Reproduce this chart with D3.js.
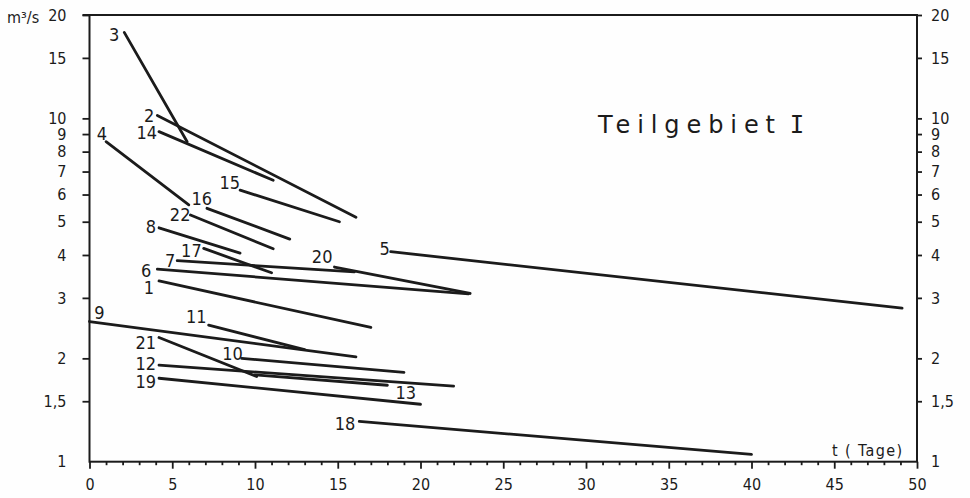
<!DOCTYPE html>
<html><head><meta charset="utf-8">
<script src="https://cdn.jsdelivr.net/npm/d3@7"></script>
<style>
html,body{margin:0;padding:0;background:#fff;}
svg{display:block;}
</style></head><body>
<svg id="chart" width="970" height="498"></svg>
<script>
// Recession segments, Teilgebiet I: start/end day and discharge (m³/s)
const seriesIds = ["1","2","3","4","5","6","7","8","9","10","11","12","13","14","15","16","17","18","19","20","21","22"];
const startDay  = [4.2, 4.1, 2.1, 1.0, 18.2, 4.1, 5.3, 4.2, 0.0, 9.2, 7.2, 4.2, 10.0, 4.2, 9.1, 7.1, 6.9, 16.3, 4.2, 14.8, 4.2, 6.1];
const startQ    = [3.36, 10.2, 17.8, 8.55, 4.09, 3.64, 3.85, 4.8, 2.56, 2.0, 2.50, 1.91, 1.79, 9.15, 6.18, 5.47, 4.18, 1.31, 1.75, 3.69, 2.30, 5.23];
const endDay    = [17.0, 16.1, 5.9, 6.0, 49.1, 22.9, 16.0, 9.1, 16.1, 19.0, 13.0, 22.0, 18.0, 11.1, 15.1, 12.1, 11.0, 40.0, 20.0, 23.0, 10.1, 11.1];
const endQ      = [2.46, 5.15, 8.55, 5.6, 2.80, 3.08, 3.57, 4.05, 2.02, 1.82, 2.12, 1.66, 1.67, 6.6, 5.0, 4.45, 3.55, 1.05, 1.47, 3.09, 1.77, 4.17];

const xTickValues = [0, 5, 10, 15, 20, 25, 30, 35, 40, 45, 50];
const yTickValues = [1, 1.5, 2, 3, 4, 5, 6, 7, 8, 9, 10, 15, 20];
const yTickLabels = ["1", "1,5", "2", "3", "4", "5", "6", "7", "8", "9", "10", "15", "20"];

// label placement next to each segment: [anchor, dx, dy, atEnd]
const labelPlace = {
  "1": ["end", -5, 7], "2": ["end", -3, 0], "3": ["end", -5, 2], "4": ["end", 1, -8],
  "5": ["end", -1, -3], "6": ["end", -6, 1], "7": ["end", -2, 0], "8": ["end", -3, -1],
  "9": ["middle", 10, -9], "10": ["end", 1, -5], "11": ["end", -2, -9], "12": ["end", -3, -2],
  "13": ["start", 8, 7, true], "14": ["end", -2, 1], "15": ["end", 0, -8], "16": ["end", 5, -10],
  "17": ["end", -2, 2], "18": ["end", -4, 2], "19": ["end", -3, 3], "20": ["end", -2, -10.5],
  "21": ["end", -3, 5], "22": ["end", 0, -1]
};

const segments = seriesIds.map((id, i) => ({
  id, x0: startDay[i], q0: startQ[i], x1: endDay[i], q1: endQ[i]
}));

const ink = "#1b1b1b";
const font = "'DejaVu Sans Condensed', 'DejaVu Sans', sans-serif";
const plot = {left: 89.5, right: 917, top: 15, bottom: 461.7};

const svg = d3.select("#chart");
svg.append("rect").attr("width", 970).attr("height", 498).attr("fill", "#fefefe");

const x = d3.scaleLinear().domain([0, 50]).range([plot.left, plot.right]);
const y = d3.scaleLog().domain([1, 20]).range([plot.bottom, plot.top]);
const labelOf = v => yTickLabels[yTickValues.indexOf(v)];

function styleAxis(g) {
  g.select(".domain").remove();
  g.selectAll(".tick line").attr("stroke", ink).attr("stroke-width", 1.8);
  g.selectAll(".tick text").attr("fill", ink).attr("font-family", font).attr("font-size", 16);
}

// left axis
const gl = svg.append("g").attr("transform", `translate(${plot.left},0)`)
  .call(d3.axisLeft(y).tickValues(yTickValues).tickFormat(labelOf).tickSize(7).tickPadding(16))
  .call(styleAxis);
gl.selectAll(".tick").filter(d => d === 1).select("line").remove();

// right axis
const gr = svg.append("g").attr("transform", `translate(${plot.right},0)`)
  .call(d3.axisRight(y).tickValues(yTickValues).tickFormat(labelOf).tickSize(5).tickPadding(9))
  .call(styleAxis);
gr.selectAll(".tick").filter(d => d === 1).select("line").remove();

// bottom axis, major ticks every 5 days
svg.append("g").attr("transform", `translate(0,${plot.bottom})`)
  .call(d3.axisBottom(x).tickValues(xTickValues).tickFormat(d3.format("d")).tickSize(7).tickPadding(10))
  .call(styleAxis);

// minor ticks every day
svg.append("g").attr("transform", `translate(0,${plot.bottom})`)
  .call(d3.axisBottom(x).tickValues(d3.range(1, 50).filter(d => d % 5 !== 0)).tickFormat("").tickSize(3.5))
  .call(styleAxis);

// frame
svg.append("rect")
  .attr("x", plot.left).attr("y", plot.top)
  .attr("width", plot.right - plot.left).attr("height", plot.bottom - plot.top)
  .attr("fill", "none").attr("stroke", ink).attr("stroke-width", 2);
svg.append("line").attr("x1", plot.left - 7).attr("x2", plot.left)
  .attr("y1", plot.top).attr("y2", plot.top).attr("stroke", ink).attr("stroke-width", 2);

// unit label
svg.append("text").attr("x", 7).attr("y", 23)
  .attr("font-family", font).attr("font-size", 16).attr("fill", ink)
  .text("m³/s");

// segments
const line = d3.line().x(d => x(d[0])).y(d => y(d[1]));
svg.append("g").selectAll("path").data(segments).join("path")
  .attr("d", d => line([[d.x0, d.q0], [d.x1, d.q1]]))
  .attr("fill", "none").attr("stroke", ink).attr("stroke-width", 2.8)
  .attr("stroke-linecap", "round");

// segment numbers
svg.append("g").selectAll("text").data(segments).join("text")
  .attr("x", d => {
    const p = labelPlace[d.id];
    return (p[3] ? x(d.x1) : x(d.x0)) + p[1];
  })
  .attr("y", d => {
    const p = labelPlace[d.id];
    return (p[3] ? y(d.q1) : y(d.q0)) + p[2] + 6.5;
  })
  .attr("text-anchor", d => labelPlace[d.id][0])
  .attr("font-family", font).attr("font-size", 18).attr("fill", ink)
  .text(d => d.id);

// title
svg.append("text").attr("x", 598).attr("y", 133)
  .attr("font-family", "'DejaVu Sans', sans-serif").attr("font-size", 24).attr("fill", ink)
  .attr("textLength", 177).attr("lengthAdjust", "spacing")
  .text("Teilgebiet");
svg.append("text").attr("x", 797).attr("y", 133).attr("text-anchor", "middle")
  .attr("font-family", "'DejaVu Sans Mono', monospace").attr("font-size", 24).attr("fill", ink)
  .text("I");

// x-axis title
svg.append("text").attr("x", 832).attr("y", 456)
  .attr("font-family", font).attr("font-size", 16).attr("fill", ink)
  .attr("textLength", 70).attr("lengthAdjust", "spacing")
  .text("t ( Tage)");
</script>
</body></html>
